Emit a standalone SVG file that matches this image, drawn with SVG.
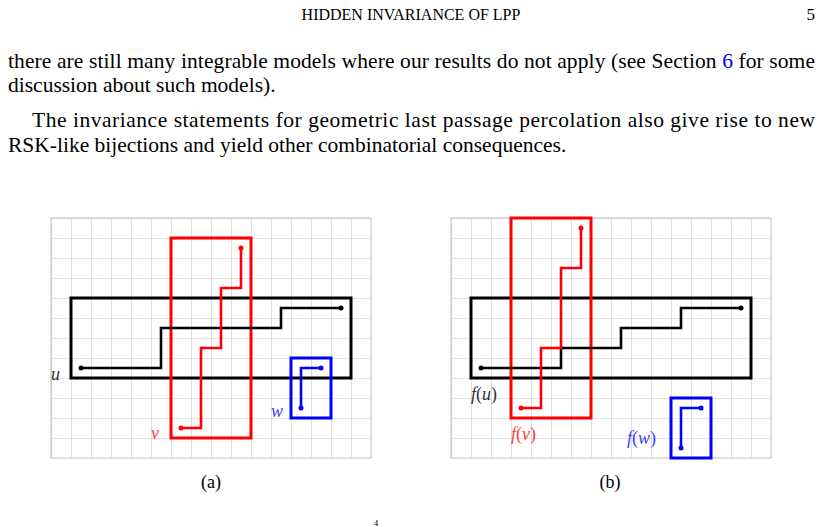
<svg xmlns="http://www.w3.org/2000/svg" width="822" height="527" viewBox="0 0 822 527">
<defs>
<pattern id="grid" x="51" y="218" width="20" height="20" patternUnits="userSpaceOnUse">
<path d="M0 0H20M0 0V20" fill="none" stroke="#c8c8c8" stroke-width="1.2"/>
</pattern>
<pattern id="gridb" x="451" y="218" width="20" height="20" patternUnits="userSpaceOnUse">
<path d="M0 0H20M0 0V20" fill="none" stroke="#c8c8c8" stroke-width="1.2"/>
</pattern>
</defs>
<style>
.t{font-family:"Liberation Serif",serif;font-size:21.5px;fill:#000}
.m{font-family:"Liberation Serif",serif;font-style:italic;font-size:18px}
.box{fill:none;stroke-width:3}
.p{fill:none;stroke-width:2.6}
.k{stroke:#000}.r{stroke:#ff0000}.b{stroke:#0000ff}
</style>
<rect width="822" height="527" fill="#fff"/>
<text x="411" y="20" text-anchor="middle" class="t" style="font-size:16px">HIDDEN INVARIANCE OF LPP</text>
<text x="815" y="20" text-anchor="end" class="t" style="font-size:17px">5</text>
<text x="8" y="68" class="t" textLength="807" lengthAdjust="spacing">there are still many integrable models where our results do not apply (see Section <tspan fill="#0000ff">6</tspan> for some</text>
<text x="8" y="92" class="t">discussion about such models).</text>
<text x="32" y="127" class="t" textLength="783" lengthAdjust="spacing">The invariance statements for geometric last passage percolation also give rise to new</text>
<text x="8" y="152" class="t">RSK-like bijections and yield other combinatorial consequences.</text>

<g id="panel-a">
<rect x="51" y="218" width="320" height="240" fill="url(#grid)" stroke="#c8c8c8" stroke-width="1.2"/>
</g>
<g id="panel-b">
<rect x="451" y="218" width="320" height="240" fill="url(#gridb)" stroke="#c8c8c8" stroke-width="1.2"/>
</g>

<g id="node-u">
<rect class="box k" x="71" y="298" width="280" height="80"/>
<text x="51" y="380" class="m" fill="#333">u</text>
</g>
<g id="node-v">
<rect class="box r" x="171" y="238" width="80" height="200"/>
<text x="151" y="439" class="m" fill="#ff4040">v</text>
</g>
<g id="node-w">
<rect class="box b" x="291" y="358" width="40" height="60"/>
<text x="271" y="417" class="m" fill="#4040ff">w</text>
</g>
<g id="node-fu">
<rect class="box k" x="471" y="298" width="280" height="80"/>
<text x="471" y="400" class="m" fill="#333">f<tspan font-style="normal">(</tspan>u<tspan font-style="normal">)</tspan></text>
</g>
<g id="node-fv">
<rect class="box r" x="511" y="218" width="80" height="200"/>
<text x="511" y="440" class="m" fill="#ff4040">f<tspan font-style="normal">(</tspan>v<tspan font-style="normal">)</tspan></text>
</g>
<g id="node-fw">
<rect class="box b" x="671" y="398" width="40" height="60"/>
<text x="627" y="444" class="m" fill="#4040ff">f<tspan font-style="normal">(</tspan>w<tspan font-style="normal">)</tspan></text>
</g>

<g id="connectors">
<polyline class="p k" points="81,368 161,368 161,328 281,328 281,308 341,308"/>
<polyline class="p r" points="181,428 201,428 201,348 221,348 221,288 241,288 241,248"/>
<polyline class="p b" points="301,408 301,368 321,368"/>
<polyline class="p k" points="481,368 561,368 561,348 621,348 621,328 681,328 681,308 741,308"/>
<polyline class="p r" points="521,408 541,408 541,348 561,348 561,268 581,268 581,228"/>
<polyline class="p b" points="681,448 681,408 701,408"/>
<g fill="#000"><circle cx="81" cy="368" r="2.5"/><circle cx="341" cy="308" r="2.5"/><circle cx="481" cy="368" r="2.5"/><circle cx="741" cy="308" r="2.5"/></g>
<g fill="#ff0000"><circle cx="181" cy="428" r="2.5"/><circle cx="241" cy="248" r="2.5"/><circle cx="521" cy="408" r="2.5"/><circle cx="581" cy="228" r="2.5"/></g>
<g fill="#0000ff"><circle cx="301" cy="408" r="2.5"/><circle cx="321" cy="368" r="2.5"/><circle cx="681" cy="448" r="2.5"/><circle cx="701" cy="408" r="2.5"/></g>
</g>

<text x="211" y="488" text-anchor="middle" class="t" style="font-size:18px">(a)</text>
<text x="610" y="488" text-anchor="middle" class="t" style="font-size:18px">(b)</text>
<text x="376" y="526" text-anchor="middle" class="t" style="font-size:9px">4</text>
</svg>
